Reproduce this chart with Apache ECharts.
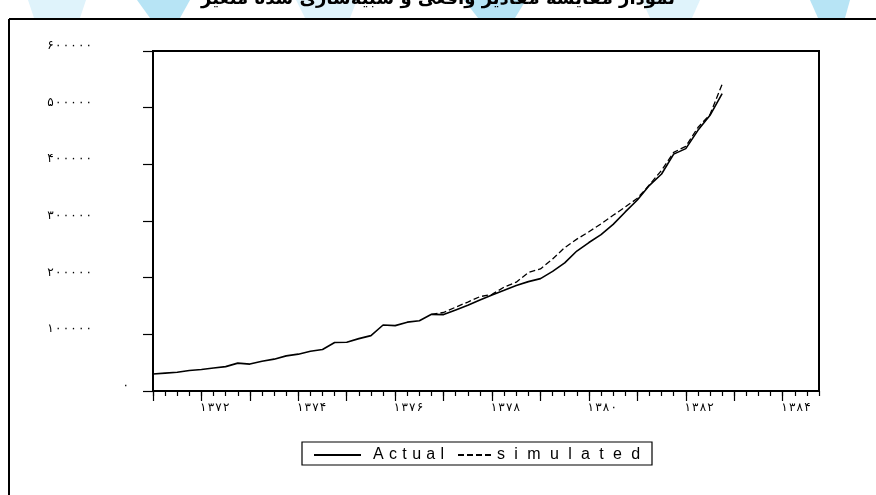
<!DOCTYPE html>
<html>
<head>
<meta charset="utf-8">
<script src="https://cdn.jsdelivr.net/npm/echarts@6/dist/echarts.min.js"></script>
<style>
  html, body { margin: 0; padding: 0; background: #fff; }
  #chart { width: 876px; height: 495px; }
</style>
</head>
<body>
<div id="chart"></div>
<script>
// Quarterly series, first observation = 1371 Q1
const firstYear = 1371;

const actual = [
  30000, 31500, 33000, 36300, 38000, 40600, 43000, 49200,
  47500, 52400, 56200, 62000, 65000, 70000, 73300, 85700,
  85900, 92400, 97700, 116500, 115400, 121500, 124000, 135300,
  134800, 143000, 151200, 160500, 169500, 177700, 186000, 193000,
  198300, 211000, 226000, 247000, 262000, 276000, 294000, 316000,
  337000, 363000, 383000, 418000, 427700, 460000, 486500, 524800
];

const simulated = [
  null, null, null, null, null, null, null, null,
  null, null, null, null, null, null, null, null,
  null, null, null, null, null, null, null, 135300,
  138500, 148000, 157000, 166500, 170500, 183500, 192000, 209000,
  215500, 233000, 253000, 268000, 281000, 295000, 310000, 324700,
  340000, 364000, 389500, 421000, 431800, 465000, 488000, 541200
];

const tickYears  = [1371, 1372, 1373, 1374, 1375, 1376, 1377, 1378, 1379, 1380, 1381, 1382, 1383, 1384];
const labelYears = [1372, 1374, 1376, 1378, 1380, 1382, 1384];
const yTicks     = [0, 100000, 200000, 300000, 400000, 500000, 600000];
const seriesNames = ['Actual', 'simulated'];

const axisQuarters = 55;     // extent of the time axis, in quarters
const labelShift = 1.1;      // year labels sit just after the year tick

const faDigits = '۰۱۲۳۴۵۶۷۸۹';
// Persian digits, slightly tracked out
const fa = n => String(n).replace(/\d/g, d => faDigits[+d]).split('').join('\u200A');
const q = y => (y - firstYear) * 4;
const spacedA = s => s.split('').join('\u2004');
const spacedB = s => s.split('').join('\u2002\u200A');

const pts = arr => arr.map((v, i) => [i, v]);

const faFont = 'DejaVu Sans';
const black = '#000';

const chart = echarts.init(document.getElementById('chart'));

chart.setOption({
  backgroundColor: '#fff',
  animation: false,
  grid: {
    left: 153, right: 57, top: 51, bottom: 104,
    show: true, borderColor: black, borderWidth: 2, backgroundColor: 'transparent'
  },
  xAxis: [
    { // quarter ticks
      type: 'value', position: 'bottom', min: 0, max: axisQuarters, interval: 1,
      axisLine: { show: true, lineStyle: { color: black, width: 2 } },
      axisTick: { show: true, length: 5, lineStyle: { color: black, width: 1.2 } },
      axisLabel: { show: false },
      splitLine: { show: false }
    },
    { // year ticks and labels
      type: 'value', position: 'bottom', offset: 0, min: 0, max: axisQuarters, interval: 4,
      axisLine: { show: false },
      axisTick: {
        show: true, length: 10, lineStyle: { color: black, width: 1.2 },
        customValues: tickYears.map(q)
      },
      axisLabel: {
        show: true, margin: 11, color: black, fontFamily: faFont, fontSize: 12,
        customValues: labelYears.map(y => q(y) + labelShift),
        formatter: v => fa(firstYear + Math.round((v - labelShift) / 4))
      },
      splitLine: { show: false }
    }
  ],
  yAxis: [
    {
      type: 'value', min: yTicks[0], max: yTicks[yTicks.length - 1], interval: yTicks[1] - yTicks[0],
      axisLine: { show: true, lineStyle: { color: black, width: 2 } },
      axisTick: { show: true, length: 10, lineStyle: { color: black, width: 1.2 } },
      axisLabel: {
        show: true, margin: 61, color: black, fontFamily: faFont, fontSize: 12,
        verticalAlign: 'bottom', lineHeight: 10,
        formatter: v => v === 0 ? '' : fa(v)
      },
      splitLine: { show: false }
    },
    { // zero label sits closer to the axis
      type: 'value', position: 'left', min: yTicks[0], max: yTicks[yTicks.length - 1], interval: yTicks[1] - yTicks[0],
      axisLine: { show: false }, axisTick: { show: false }, splitLine: { show: false },
      axisLabel: {
        show: true, margin: 24, color: black, fontFamily: faFont, fontSize: 12,
        verticalAlign: 'bottom', lineHeight: 10,
        formatter: v => v === 0 ? fa(0) : ''
      }
    }
  ],
  legend: [
    {
      data: [seriesNames[0]], left: 313, top: 447, padding: 0,
      itemWidth: 47, itemHeight: 14,
      itemStyle: { color: 'rgba(0,0,0,0)', borderWidth: 0, opacity: 0 },
      formatter: name => spacedA(name),
      textStyle: { color: black, fontFamily: 'Liberation Sans', fontSize: 16, padding: [0, 0, 0, 7] }
    },
    {
      data: [seriesNames[1]], left: 457, top: 447, padding: 0,
      itemWidth: 33, itemHeight: 14,
      itemStyle: { color: 'rgba(0,0,0,0)', borderWidth: 0, opacity: 0 },
      formatter: name => spacedB(name),
      textStyle: { color: black, fontFamily: 'Liberation Sans', fontSize: 16, padding: [0, 0, 0, 1] }
    }
  ],
  graphic: [
    // soft blue bands along the top strip
    { type: 'polygon', z: -10, shape: { points: [[28, 0], [86, 0], [80, 18], [34, 18]] }, style: { fill: '#dff3fb' } },
    { type: 'polygon', z: -10, shape: { points: [[137, 0], [190, 0], [180, 18], [150, 18]] }, style: { fill: '#b7e4f5' } },
    { type: 'polygon', z: -10, shape: { points: [[296, 0], [357, 0], [350, 18], [305, 18]] }, style: { fill: '#dff3fb' } },
    { type: 'polygon', z: -10, shape: { points: [[464, 0], [526, 0], [515, 18], [478, 18]] }, style: { fill: '#b7e4f5' } },
    { type: 'polygon', z: -10, shape: { points: [[642, 0], [700, 0], [692, 18], [650, 18]] }, style: { fill: '#dff3fb' } },
    { type: 'polygon', z: -10, shape: { points: [[810, 0], [850, 0], [845, 18], [818, 18]] }, style: { fill: '#b7e4f5' } },
    // heading, cut by the top edge
    {
      type: 'text', left: 'center', top: -10,
      style: {
        text: 'نمودار مقایسه مقادیر واقعی و شبیه‌سازی شده متغیر', fill: black,
        font: 'bold 18px "DejaVu Sans"'
      }
    },
    // outer frame
    { type: 'line', shape: { x1: 9, y1: 19, x2: 876, y2: 19 }, style: { stroke: black, lineWidth: 2 } },
    { type: 'line', shape: { x1: 9, y1: 19, x2: 9, y2: 495 }, style: { stroke: black, lineWidth: 2 } },
    // legend frame
    { type: 'rect', shape: { x: 302, y: 442, width: 350, height: 23 }, style: { fill: 'none', stroke: black, lineWidth: 1.2 } }
  ],
  series: [
    {
      name: seriesNames[0], type: 'line', data: pts(actual), xAxisIndex: 0, yAxisIndex: 0,
      symbol: 'none', color: black,
      lineStyle: { color: black, width: 1.6, type: 'solid' }
    },
    {
      name: seriesNames[1], type: 'line', data: pts(simulated), xAxisIndex: 0, yAxisIndex: 0,
      symbol: 'none', color: black, connectNulls: false,
      lineStyle: { color: black, width: 1.3, type: [6, 3] }
    }
  ]
});
</script>
</body>
</html>
